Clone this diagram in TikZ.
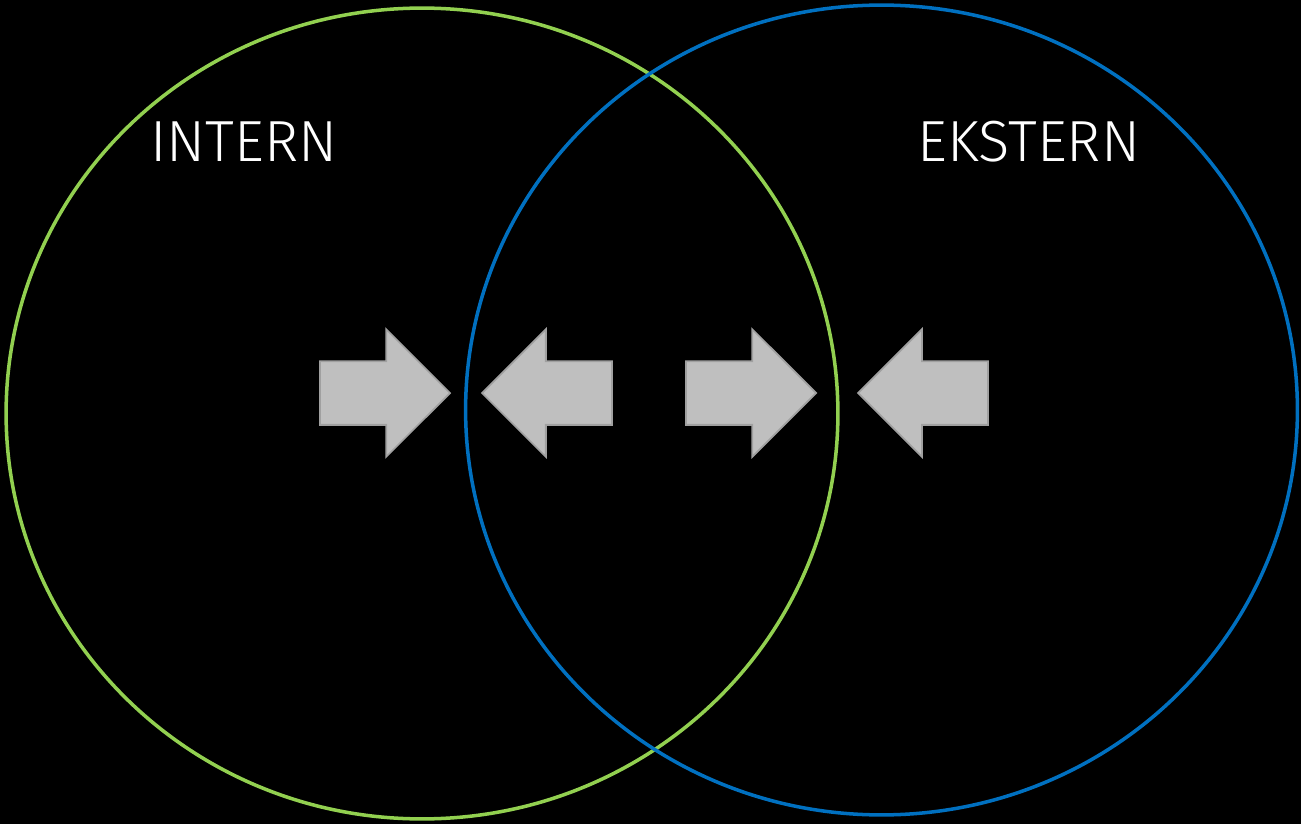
\documentclass[tikz,border=0pt]{standalone}
\usepackage{fontspec}
\setmainfont{Fira Sans}[UprightFont=* Light]
\usepackage{xcolor}
\definecolor{venngreen}{RGB}{146,208,80}
\definecolor{vennblue}{RGB}{0,112,192}
\definecolor{arrowgrey}{RGB}{191,191,191}
\definecolor{arrowedge}{RGB}{160,160,160}
\usetikzlibrary{shapes.geometric,shapes.arrows}
\tikzset{
  set/.style={ellipse,draw,line width=2pt,inner sep=0pt,minimum width=16.64cm,minimum height=16.22cm},
  lab/.style={text=white,font=\fontsize{33}{36}\selectfont,inner sep=0pt},
  push/.style={single arrow,fill=arrowgrey,draw=arrowedge,line width=1pt,inner xsep=0pt,inner ysep=0.62cm,
    minimum height=2.6cm,single arrow head extend=0.64cm,outer sep=0pt,anchor=tip},
}

\begin{document}
\begin{tikzpicture}[x=0.02cm,y=-0.02cm]
    \fill[black] (0,0) rectangle (1301,824);
    \node[set,draw=venngreen,minimum height=16.22cm] (intern) at (422,413.5) {};
    \node[set,draw=vennblue,minimum height=16.2cm] (ekstern) at (881.5,410) {};
    \node[lab] (tint) at (244,142) {INTERN};
    \node[lab] (text) at (1029,142) {EKSTERN};
    \node[push] (p1) at (450,393) {};
    \node[push,shape border rotate=180] (p2) at (482,393) {};
    \node[push] (p3) at (816,393) {};
    \node[push,shape border rotate=180] (p4) at (858,393) {};
  \end{tikzpicture}
\end{document}
